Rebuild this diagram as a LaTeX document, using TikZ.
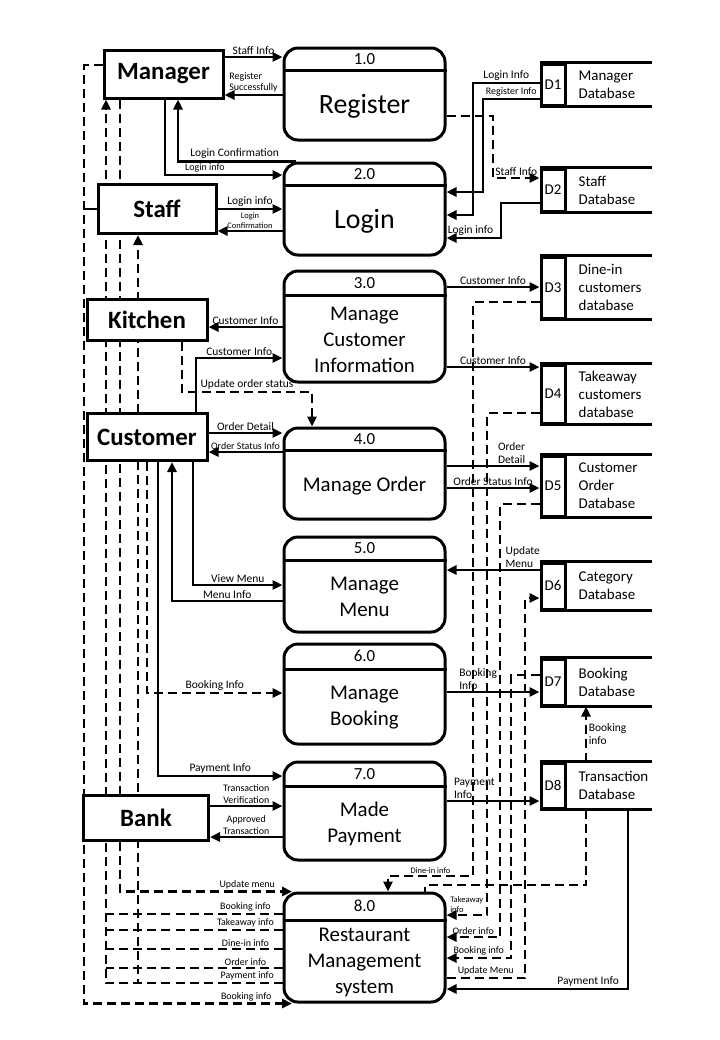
\documentclass[tikz,border=0pt]{standalone}
\usepackage{fontspec}
\setmainfont{Carlito}
\usetikzlibrary{arrows.meta, positioning, backgrounds, calc}

\tikzset{
    entity/.style={draw, line width=3bp, fill=white, font=\fontsize{25}{28}\selectfont\bfseries},
    process/.style={draw, line width=3bp, fill=white, rounded corners=14bp, minimum width=161bp},
    pnum/.style={font=\fontsize{17}{19}\selectfont, inner sep=0pt},
    ptitle/.style={font=\fontsize{28}{32}\selectfont, inner sep=0pt},
    ptext/.style={font=\fontsize{21}{26}\selectfont, align=center, inner sep=0pt},
    dsid/.style={draw, line width=3bp, fill=white, minimum width=24bp, inner sep=0pt, font=\fontsize{15}{18}\selectfont},
    dstext/.style={font=\fontsize{15}{18}\selectfont, align=left, inner sep=0pt},
    boxline/.style={line width=3bp},
    conn/.style={line width=2.6bp},
    dconn/.style={conn, dash pattern=on 9bp off 5bp},
    flow/.style={conn, -{Triangle[length=10bp, width=9bp]}},
    dflow/.style={dconn, -{Triangle[length=10bp, width=9bp]}},
    lbl/.style={font=\fontsize{11.5}{13}\selectfont, inner sep=1.5bp},
    slbl/.style={font=\fontsize{10}{11.5}\selectfont, inner sep=1.5bp},
    tlbl/.style={font=\fontsize{8.5}{10}\selectfont, inner sep=1bp},
}

\begin{document}
\begin{tikzpicture}[x=1bp, y=-1bp]
    \useasboundingbox (0,0) rectangle (720,1040);

    % External entities
    \node[entity, minimum width=119bp, minimum height=48bp] (manager) at (163.5,74) {Manager};
    \node[entity, minimum width=118bp, minimum height=49bp] (staff) at (157,209) {Staff};
    \node[entity, minimum width=120bp, minimum height=41bp] (kitchen) at (147,320) {Kitchen};
    \node[entity, minimum width=120bp, minimum height=47bp] (customer) at (147,437) {Customer};
    \node[entity, minimum width=125bp, minimum height=45bp] (bank) at (146,817.5) {Bank};

    % Processes
    \node[process, minimum height=92bp] (p1) at (364.5,94) {};
    \node[process, minimum height=92bp] (p2) at (364.5,209) {};
    \node[process, minimum height=111bp] (p3) at (364.5,326.5) {};
    \node[process, minimum height=91bp] (p4) at (364.5,473.5) {};
    \node[process, minimum height=95bp] (p5) at (364.5,584.5) {};
    \node[process, minimum height=100bp] (p6) at (364.5,694) {};
    \node[process, minimum height=98bp] (p7) at (364.5,811) {};
    \node[process, minimum height=109bp] (p8) at (364.5,947.5) {};
    \foreach \p/\n/\h in {p1/1.0/24, p2/2.0/24, p3/3.0/26, p4/4.0/24, p5/5.0/25, p6/6.0/27, p7/7.0/26, p8/8.0/29} {
        \node[pnum, below=0bp of \p.north, minimum height=\h bp] (\p num) {\n};
        \draw[boxline] (\p num.south -| \p.west) -- (\p num.south -| \p.east);
    }
    \node[ptitle] (p1t) at ($(p1num.south)!0.5!(p1.south)$) {Register};
    \node[ptitle] (p2t) at ($(p2num.south)!0.5!(p2.south)$) {Login};
    \node[ptext] (p3t) at ($(p3num.south)!0.5!(p3.south)$) {Manage\\Customer\\Information};
    \node[ptext] (p4t) at ($(p4num.south)!0.5!(p4.south)$) {Manage Order};
    \node[ptext] (p5t) at ($(p5num.south)!0.5!(p5.south)$) {Manage\\Menu};
    \node[ptext] (p6t) at ($(p6num.south)!0.5!(p6.south)$) {Manage\\Booking};
    \node[ptext] (p7t) at ($(p7num.south)!0.5!(p7.south)$) {Made\\Payment};
    \node[ptext] (p8t) at ($(p8num.south)!0.5!(p8.south)$) {Restaurant\\Management\\system};

    % Data stores
    \node[dsid, minimum height=41bp] (d1) at (553,84.5) {D1};
    \node[dsid, minimum height=42bp] (d2) at (553,190) {D2};
    \node[dsid, minimum height=61bp] (d3) at (553,287.5) {D3};
    \node[dsid, minimum height=58bp] (d4) at (553,394) {D4};
    \node[dsid, minimum height=60bp] (d5) at (553,486) {D5};
    \node[dsid, minimum height=46bp] (d6) at (553,586) {D6};
    \node[dsid, minimum height=46bp] (d7) at (553,682) {D7};
    \node[dsid, minimum height=45bp] (d8) at (553,785.5) {D8};
    \node[dstext, right=12bp of d1] (d1t) {Manager\\Database};
    \node[dstext, right=12bp of d2] (d2t) {Staff\\Database};
    \node[dstext, right=12bp of d3] (d3t) {Dine-in\\customers\\database};
    \node[dstext, right=12bp of d4] (d4t) {Takeaway\\customers\\database};
    \node[dstext, right=12bp of d5] (d5t) {Customer\\Order\\Database};
    \node[dstext, right=12bp of d6] (d6t) {Category\\Database};
    \node[dstext, right=12bp of d7] (d7t) {Booking\\Database};
    \node[dstext, right=12bp of d8] (d8t) {Transaction\\Database};
    \foreach \i in {1,...,8} {
        \draw[boxline] (d\i.north west) -- (d\i.north west -| 652,0);
        \draw[boxline] (d\i.south west) -- (d\i.south west -| 652,0);
    }

    \begin{pgfonlayer}{background}
        % Register and Login
        \draw[flow] (manager.east |- 0,57) -- node[lbl, above] {Staff Info} (p1.west |- 0,57);
        \draw[flow] (p1.west |- 0,95) -- node[slbl, above, align=left] {Register\\Successfully} (manager.east |- 0,95);
        \draw[flow] (manager.south -| 165,0) |- node[slbl, above, pos=0.67] {Login info} (p2.west |- 0,175);
        \draw[flow] (p2.north -| 296,0) -| node[lbl, above, pos=0.26] {Login Confirmation} (manager.south -| 178,0);
        \draw[flow] (staff.east |- 0,209) -- node[lbl, above] {Login info} (p2.west |- 0,209);
        \draw[flow] (p2.west |- 0,231) -- node[tlbl, above, align=center] {Login\\Confirmation} (staff.east |- 0,231);
        \draw[flow] (d1.west |- 0,83) -- node[lbl, above] {Login Info} (473,83) |- (p2.east |- 0,215);
        \draw[flow] (d1.west |- 0,99) -- node[slbl, above] {Register Info} (483,99) |- (p2.east |- 0,192);
        \draw[flow] (d2.west |- 0,203) -- (501,203) |- node[lbl, above, pos=0.78] {Login info} (p2.east |- 0,238);
        \draw[dflow] (p1.east |- 0,116) -- (493,116) |- node[lbl, above, pos=0.75] {Staff Info} (d2.west |- 0,178);

        % Customer information
        \draw[flow] (p3.east |- 0,287) -- node[lbl, above] {Customer Info} (d3.west |- 0,287);
        \draw[flow] (p3.east |- 0,367) -- node[lbl, above] {Customer Info} (d4.west |- 0,367);
        \draw[flow] (p3.west |- 0,327) -- node[lbl, above] {Customer Info} (kitchen.east |- 0,327);
        \draw[flow] (customer.north -| 196,0) |- node[lbl, above, pos=0.75] {Customer Info} (p3.west |- 0,358);
        \draw[dflow] (kitchen.south -| 182,0) |- node[lbl, above, pos=0.75] {Update order status} (312,392) -- (p4.north -| 312,0);

        % Orders
        \draw[flow] (customer.east |- 0,433) -- node[lbl, above] {Order Detail} (p4.west |- 0,433);
        \draw[flow] (p4.west |- 0,452) -- node[slbl, above] {Order Status Info} (customer.east |- 0,452);
        \draw[flow] (p4.east |- 0,466) -- node[lbl, above, align=left, pos=0.7] {Order\\Detail} (d5.west |- 0,466);
        \draw[flow] (p4.east |- 0,488) -- node[lbl, above] {Order Status Info} (d5.west |- 0,488);

        % Menu and booking
        \draw[flow] (customer.south -| 193,0) |- node[lbl, above, pos=0.75] {View Menu} (p5.west |- 0,585);
        \draw[flow] (p5.west |- 0,601) -| node[lbl, above, pos=0.25] {Menu Info} (customer.south -| 172,0);
        \draw[flow] (d6.west |- 0,570) -- node[lbl, above, align=left, pos=0.18] {Update\\Menu} (p5.east |- 0,570);
        \draw[dflow] (customer.south -| 147,0) |- node[lbl, above, pos=0.75] {Booking Info} (p6.west |- 0,693);
        \draw[flow] (p6.east |- 0,692) -- node[lbl, above, align=left, pos=0.34] {Booking\\Info} (d7.west |- 0,692);

        % Payment
        \draw[flow] (customer.south -| 158,0) |- node[lbl, above, pos=0.75] {Payment Info} (p7.west |- 0,776);
        \draw[flow] (bank.east |- 0,806) -- node[slbl, above, align=center] {Transaction\\Verification} (p7.west |- 0,806);
        \draw[flow] (p7.west |- 0,837) -- node[slbl, above, align=center] {Approved\\Transaction} (bank.east |- 0,837);
        \draw[flow] (p7.east |- 0,801) -- node[lbl, above, align=left, pos=0.3] {Payment\\Info} (d8.west |- 0,801);
        \draw[dflow] (d8.north -| 586,0) -- node[lbl, right, align=left] {Booking\\info} (d7.south -| 586,0);
        \draw[flow] (d8.south -| 628,0) |- node[lbl, above, pos=0.61] {Payment Info} (p8.east |- 0,989);

        % Restaurant management system, right side
        \draw[dflow] (d3.west |- 0,302) -| (473,876) -| node[tlbl, above, pos=0.25] {Dine-in info} (p8.north -| 388,0);
        \draw[dflow] (d4.west |- 0,413) -| (487,915) -- node[tlbl, above, align=left] {Takeaway\\info} (p8.east |- 0,915);
        \draw[dflow] (d5.west |- 0,504) -| (500,937) -- node[slbl, above] {Order info} (p8.east |- 0,937);
        \draw[dflow] (d7.west |- 0,675) -| (511,958) -- node[slbl, above] {Booking info} (p8.east |- 0,958);
        \draw[dflow] (p8.east |- 0,978) -| node[slbl, above, pos=0.25] {Update Menu} (525,598) -- (d6.west |- 0,598);
        \draw[dconn] (d8.south -| 586,0) |- (425,885) -- (p8.north -| 425,0);

        % Restaurant management system, left side
        \draw[dflow] (manager.south -| 120,0) |- node[slbl, above, pos=0.87] {Update menu} (p8.north -| 292,0);
        \foreach \y/\t in {914/Booking info, 930/Takeaway info, 949/Dine-in info, 968/Order info} {
            \draw[dconn] (p8.west |- 0,\y) -- node[slbl, above, pos=0.21] {\t} (106,\y);
        }
        \draw[dflow] (p8.west |- 0,983) -| node[slbl, above, pos=0.1] {Payment info} (manager.south -| 106,0);
        \draw[dflow] (p8.west |- 0,983) -| (staff.south -| 138,0);
        \draw[dflow] (manager.west |- 0,65) -| (p8.south -| 84,0) -- node[slbl, above, pos=0.78] {Booking info} (p8.south -| 292,0);
        \draw[conn] (staff.west) -- (staff.west -| 84,0);
    \end{pgfonlayer}
\end{tikzpicture}
\end{document}
